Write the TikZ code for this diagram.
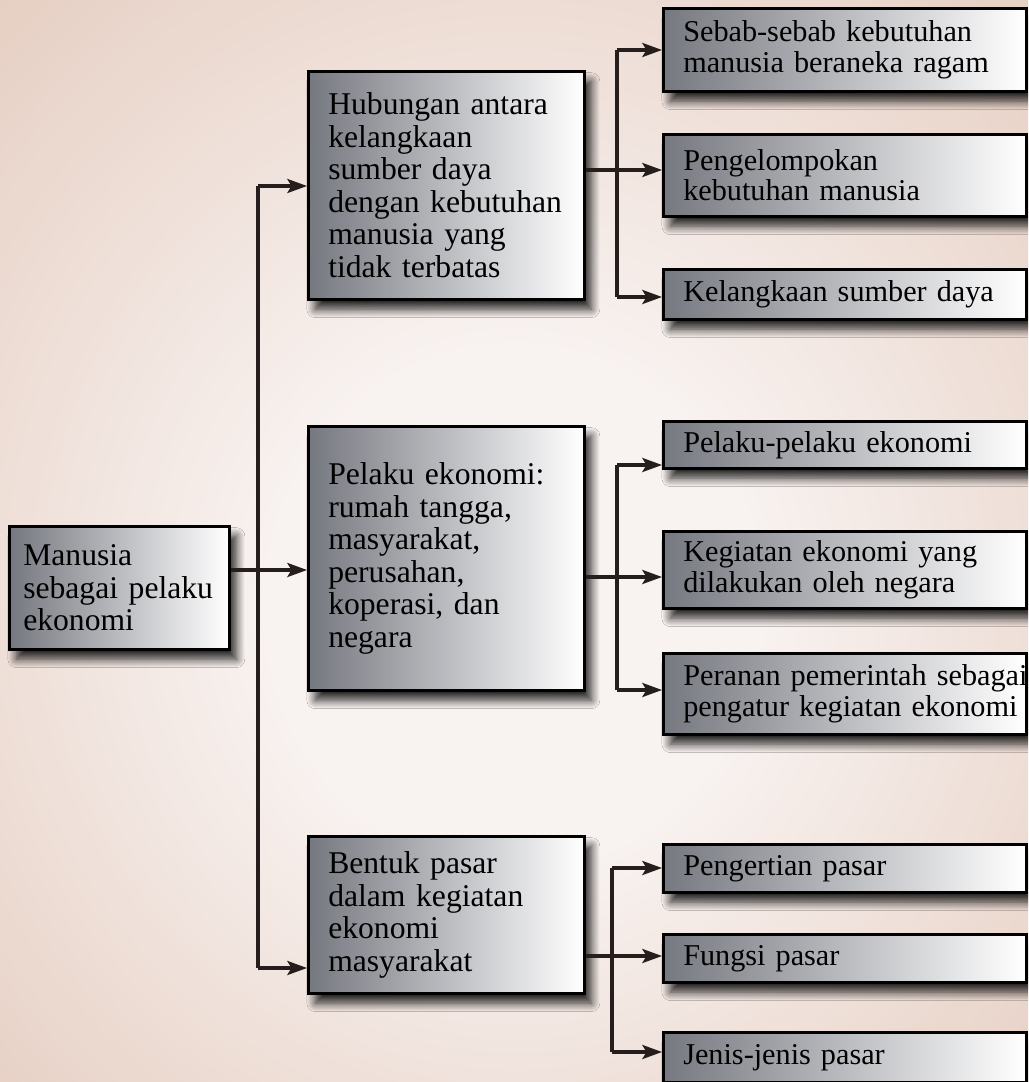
\documentclass[tikz,border=0pt]{standalone}
\usepackage{fontspec}
\setmainfont{Liberation Serif}
\usetikzlibrary{arrows.meta,shadows.blur}
\definecolor{BoxGray}{RGB}{118,120,128}
\definecolor{BoxMid}{RGB}{196,198,203}
\definecolor{BgOuter}{RGB}{220,187,169}
\definecolor{BgInner}{RGB}{248,242,240}
\definecolor{LineDark}{RGB}{38,30,28}
\pgfdeclareradialshading{bgglow}{\pgfpoint{0bp}{-4bp}}{color(0bp)=(BgInner); color(12bp)=(BgInner); color(50bp)=(BgOuter)}

\begin{document}
\begin{tikzpicture}[x=0.025cm,y=-0.025cm,
  box/.style={draw=black,line width=1.8pt,anchor=north west,inner ysep=0pt,align=left,
    left color=BoxGray,middle color=BoxMid,right color=white,
    blur shadow={shadow xshift=5pt,shadow yshift=-7pt,shadow blur radius=6pt,shadow blur steps=10,shadow opacity=85},
    font=\fontsize{22.5}{23.1}\selectfont},
  midbox/.style={box,text width=5.9cm,inner xsep=0.5cm},
  leafbox/.style={box,text width=8.075cm,inner xsep=0.5cm,font=\fontsize{21.5}{21.5}\selectfont},
  con/.style={draw=LineDark,line width=2.2pt},
  arr/.style={con,-{Stealth[length=14pt,width=10pt,inset=3pt]}}]
\useasboundingbox (0,0) rectangle (1028,1082);
\clip (0,0) rectangle (1028,1082);
\shade[shading=bgglow] (0,0) rectangle (1028,1082);

\node[box,text width=4.8cm,inner xsep=0.35cm,minimum height=3.075cm] (root) at (8,525) {Manusia\\sebagai pelaku\\ekonomi};

\node[midbox,minimum height=5.7cm] (mid1) at (307,70) {Hubungan antara\\kelangkaan\\sumber daya\\dengan kebutuhan\\manusia yang\\tidak terbatas};
\node[midbox,minimum height=6.6cm] (mid2) at (307,425) {Pelaku ekonomi:\\rumah tangga,\\masyarakat,\\perusahan,\\koperasi, dan\\negara};
\node[midbox,minimum height=3.925cm] (mid3) at (307,835) {Bentuk pasar\\dalam kegiatan\\ekonomi\\masyarakat};

\node[leafbox,minimum height=2.075cm] (leaf1) at (662,7) {Sebab-sebab kebutuhan\\manusia beraneka ragam};
\node[leafbox,minimum height=2.05cm] (leaf2) at (662,133) {Pengelompokan\\kebutuhan manusia};
\node[leafbox,minimum height=1.25cm] (leaf3) at (662,268) {Kelangkaan sumber daya};
\node[leafbox,minimum height=1.175cm] (leaf4) at (662,420) {Pelaku-pelaku ekonomi};
\node[leafbox,minimum height=1.925cm] (leaf5) at (662,530) {Kegiatan ekonomi yang\\dilakukan oleh negara};
\node[leafbox,minimum height=2.025cm] (leaf6) at (662,652) {\mbox{Peranan pemerintah sebagai}\\\mbox{pengatur kegiatan ekonomi}};
\node[leafbox,minimum height=1.2cm] (leaf7) at (662,843) {Pengertian pasar};
\node[leafbox,minimum height=1.2cm] (leaf8) at (662,933) {Fungsi pasar};
\node[leafbox,minimum height=1.25cm] (leaf9) at (662,1031) {Jenis-jenis pasar};

\coordinate (ja1) at (258,186);
\coordinate (ja2) at (258,570);
\coordinate (ja3) at (258,968);
\coordinate (jb1) at (617,50);
\coordinate (jb2) at (617,170);
\coordinate (jb3) at (617,297);
\coordinate (jb4) at (617,465);
\coordinate (jb5) at (617,577);
\coordinate (jb6) at (617,690);
\coordinate (jb7) at (612,868);
\coordinate (jb8) at (612,956);
\coordinate (jb9) at (612,1052);

\draw[con] (ja1) -- (ja3);
\draw[con] (root.east |- ja2) -- (ja2);
\foreach \i in {1,2,3}
  \draw[arr] (ja\i) -- (mid\i.west |- ja\i);

\draw[con] (jb1) -- (jb3);
\draw[con] (jb4) -- (jb6);
\draw[con] (jb7) -- (jb9);
\draw[con] (mid1.east |- jb2) -- (jb2);
\draw[con] (mid2.east |- jb5) -- (jb5);
\draw[con] (mid3.east |- jb8) -- (jb8);
\foreach \i in {1,...,9}
  \draw[arr] (jb\i) -- (leaf\i.west |- jb\i);

\end{tikzpicture}
\end{document}
